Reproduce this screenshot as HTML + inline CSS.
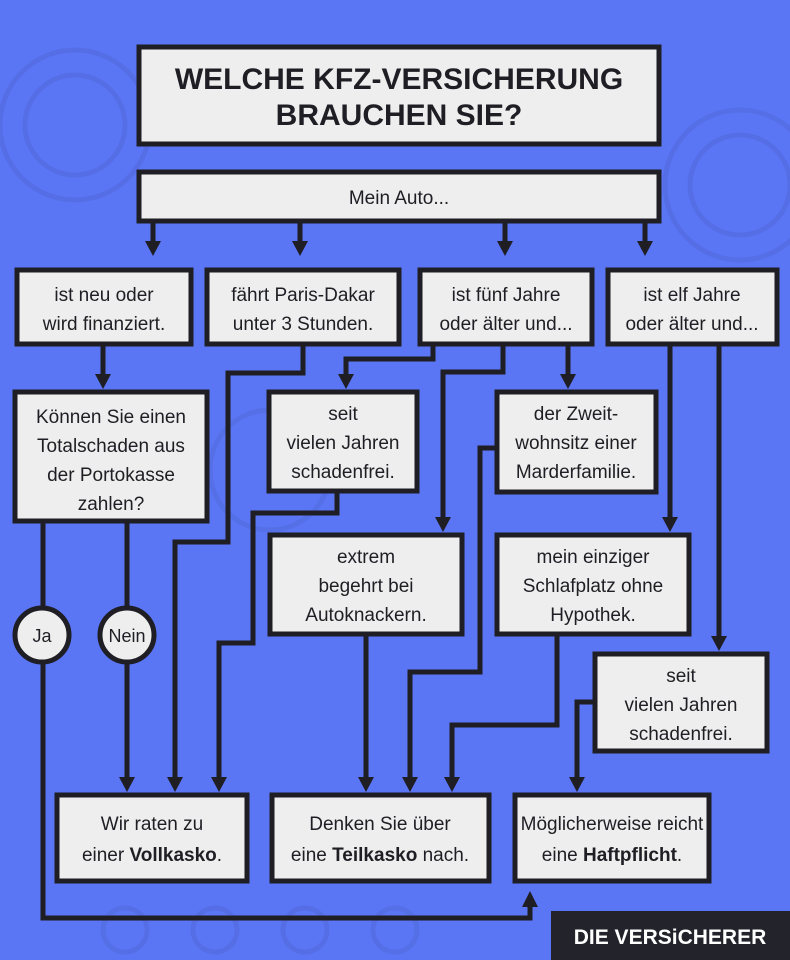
<!DOCTYPE html>
<html><head><meta charset="utf-8"><style>
html,body{margin:0;padding:0;background:#5b76f5;}
svg{display:block;font-family:"Liberation Sans",sans-serif;}
</style></head><body>
<svg width="790" height="960" viewBox="0 0 790 960" xmlns="http://www.w3.org/2000/svg">
<rect width="790" height="960" fill="#5b76f5"/>
<g fill="none" stroke="#5068d8" stroke-width="5" opacity="0.5">
<circle cx="75" cy="125" r="75"/><circle cx="75" cy="125" r="50"/>
<circle cx="740" cy="185" r="75"/><circle cx="740" cy="185" r="50"/>
<circle cx="270" cy="470" r="60"/>
<circle cx="125" cy="930" r="22"/><circle cx="215" cy="930" r="22"/><circle cx="305" cy="930" r="22"/><circle cx="395" cy="930" r="22"/>
</g>
<g fill="none" stroke="#1e1e24" stroke-width="5" stroke-linejoin="miter">
<path d="M153 222V243M300 222V243M505 222V243M645 222V243"/>
<path d="M103 345V376"/>
<path d="M43 522V607M43 663V918H530V905"/>
<path d="M127 522V607M127 663V779"/>
<path d="M303 345V373H228V542H175V779"/>
<path d="M433 345V359H346V376"/>
<path d="M503 345V372H443V519"/>
<path d="M568 345V376"/>
<path d="M337 492V513H253V643H219V779"/>
<path d="M495 448H480V672H410V779"/>
<path d="M366 635V779"/>
<path d="M557 635V725H452V779"/>
<path d="M670 345V519M719 345V638"/>
<path d="M593 702H577V779"/>
</g>
<g fill="#1e1e24">
<path d="M145 241h16l-8 15z"/><path d="M292 241h16l-8 15z"/><path d="M497 241h16l-8 15z"/><path d="M637 241h16l-8 15z"/>
<path d="M95 374h16l-8 15z"/>
<path d="M338 374h16l-8 15z"/><path d="M560 374h16l-8 15z"/>
<path d="M435 517h16l-8 15z"/><path d="M662 517h16l-8 15z"/>
<path d="M711 636h16l-8 15z"/>
<path d="M119 777h16l-8 15z"/><path d="M167 777h16l-8 15z"/><path d="M211 777h16l-8 15z"/>
<path d="M358 777h16l-8 15z"/><path d="M402 777h16l-8 15z"/><path d="M444 777h16l-8 15z"/>
<path d="M569 777h16l-8 15z"/>
<path d="M522 907h16l-8 -16z"/>
</g>
<g fill="#eeeeee" stroke="#1e1e24" stroke-width="5">
<rect x="139" y="47" width="520" height="97"/>
<rect x="139" y="172" width="520" height="49"/>
<rect x="17" y="270" width="174" height="74"/>
<rect x="207" y="270" width="192" height="74"/>
<rect x="420" y="270" width="172" height="74"/>
<rect x="608" y="270" width="169" height="74"/>
<rect x="15" y="392" width="192" height="129"/>
<rect x="269" y="392" width="148" height="99"/>
<rect x="497" y="392" width="159" height="100"/>
<rect x="270" y="535" width="192" height="99"/>
<rect x="497" y="535" width="192" height="99"/>
<rect x="595" y="654" width="172" height="97"/>
<rect x="57" y="795" width="190" height="86"/>
<rect x="272" y="795" width="217" height="86"/>
<rect x="515" y="795" width="194" height="86"/>
<circle cx="42" cy="635" r="27"/>
<circle cx="127" cy="635" r="27"/>
</g>
<g fill="#1e1e24" font-size="19" text-anchor="middle">
<text x="399" y="89" font-size="30" font-weight="bold">WELCHE KFZ-VERSICHERUNG</text>
<text x="399" y="125" font-size="30" font-weight="bold">BRAUCHEN SIE?</text>
<text x="399" y="204">Mein Auto...</text>
<text x="104" y="301">ist neu oder</text><text x="104" y="330">wird finanziert.</text>
<text x="303" y="301">fährt Paris-Dakar</text><text x="303" y="330">unter 3 Stunden.</text>
<text x="506" y="301">ist fünf Jahre</text><text x="506" y="330">oder älter und...</text>
<text x="692" y="301">ist elf Jahre</text><text x="692" y="330">oder älter und...</text>
<text x="111" y="423">Können Sie einen</text><text x="111" y="452">Totalschaden aus</text><text x="111" y="481">der Portokasse</text><text x="111" y="510">zahlen?</text>
<text x="343" y="420">seit</text><text x="343" y="449">vielen Jahren</text><text x="343" y="478">schadenfrei.</text>
<text x="576" y="420">der Zweit-</text><text x="576" y="449">wohnsitz einer</text><text x="576" y="478">Marderfamilie.</text>
<text x="366" y="563">extrem</text><text x="366" y="592">begehrt bei</text><text x="366" y="621">Autoknackern.</text>
<text x="593" y="563">mein einziger</text><text x="593" y="592">Schlafplatz ohne</text><text x="593" y="621">Hypothek.</text>
<text x="681" y="682">seit</text><text x="681" y="711">vielen Jahren</text><text x="681" y="740">schadenfrei.</text>
<text x="42" y="642" font-size="18">Ja</text><text x="127" y="642" font-size="18">Nein</text>
<text x="152" y="830">Wir raten zu</text><text x="152" y="861">einer <tspan font-weight="bold">Vollkasko</tspan>.</text>
<text x="380" y="830">Denken Sie über</text><text x="380" y="861">eine <tspan font-weight="bold">Teilkasko</tspan> nach.</text>
<text x="612" y="830">Möglicherweise reicht</text><text x="612" y="861">eine <tspan font-weight="bold">Haftpflicht</tspan>.</text>
</g>
<rect x="551" y="911" width="239" height="49" fill="#23232b"/>
<text x="670" y="944" fill="#ffffff" font-size="21" font-weight="bold" text-anchor="middle">DIE VERSiCHERER</text>
</svg>
</body></html>
